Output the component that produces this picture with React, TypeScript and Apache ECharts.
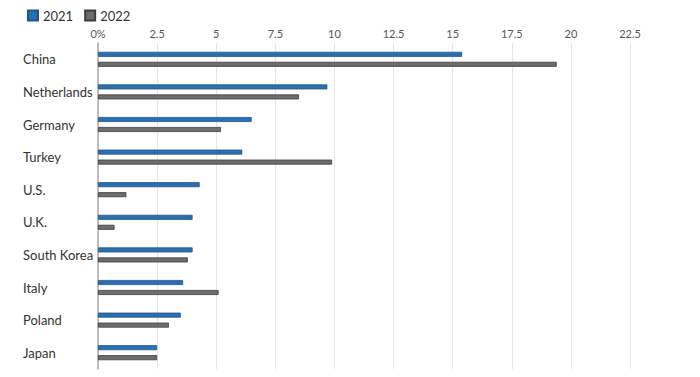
import React, { useEffect, useRef } from "react";
import * as echarts from "echarts";

const categories = ["China", "Netherlands", "Germany", "Turkey", "U.S.", "U.K.", "South Korea", "Italy", "Poland", "Japan"];
const values2021 = [15.4, 9.7, 6.5, 6.1, 4.3, 4.0, 4.0, 3.6, 3.5, 2.5];
const values2022 = [19.4, 8.5, 5.2, 9.9, 1.2, 0.7, 3.8, 5.1, 3.0, 2.5];
const seriesNames = ["2021", "2022"];

export default function App() {
  const ref = useRef<HTMLDivElement>(null);
  useEffect(() => {
    document.body.style.margin = "0";
    if (!ref.current) return;
    const chart = echarts.init(ref.current, undefined, { renderer: "svg" });
    const font = "Lato, 'Open Sans', sans-serif";
    chart.setOption({
      animation: false,
      textStyle: { fontFamily: font },
      legend: {
        left: 22,
        top: 4,
        itemWidth: 10,
        itemHeight: 10,
        itemGap: 11,
        icon: "rect",
        textStyle: { fontSize: 13, color: "#333", fontFamily: font },
        data: seriesNames,
      },
      grid: { left: 98, right: 70, top: 43, bottom: 8, containLabel: false },
      xAxis: {
        type: "value",
        position: "top",
        min: 0,
        max: 22.5,
        interval: 2.5,
        axisLine: { show: false },
        axisTick: { show: false },
        splitLine: { show: true, lineStyle: { color: "#e6e6e6", width: 1 } },
        axisLabel: {
          fontSize: 11,
          color: "#555",
          margin: 4,
          fontFamily: font,
          formatter: (v: number) => (v === 0 ? "0%" : String(v)),
        },
      },
      yAxis: {
        type: "category",
        data: categories,
        inverse: true,
        axisLine: { show: true, lineStyle: { color: "#aaa", width: 1.5 } },
        axisTick: { show: false },
        axisLabel: {
          align: "left",
          margin: 75,
          fontSize: 13,
          color: "#333",
          fontFamily: font,
        },
      },
      series: [
        {
          name: seriesNames[0],
          type: "bar",
          data: values2021,
          barWidth: 5,
          barGap: "100%",
          itemStyle: { color: "#2a6fae", borderColor: "#1d5590", borderWidth: 0.8 },
        },
        {
          name: seriesNames[1],
          type: "bar",
          data: values2022,
          barWidth: 5,
          barGap: "100%",
          itemStyle: { color: "#6d6d6d", borderColor: "#3d3d3d", borderWidth: 0.8 },
        },
      ],
    });
    return () => chart.dispose();
  }, []);
  return <div ref={ref} style={{ width: 700, height: 377 }} />;
}
